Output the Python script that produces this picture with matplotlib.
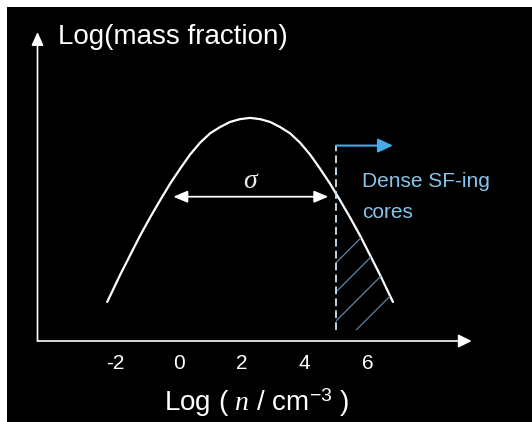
import numpy as np
import matplotlib
matplotlib.use("Agg")
import matplotlib.pyplot as plt
from matplotlib.patches import Rectangle, Polygon

plt.rcParams["font.family"] = ["Liberation Sans", "DejaVu Sans"]
plt.rcParams["mathtext.fontset"] = "custom"
plt.rcParams["mathtext.rm"] = "Liberation Sans"
plt.rcParams["mathtext.it"] = "Liberation Serif:italic"

# log density (x) vs log mass fraction (arbitrary units)
curve_x = [-2.27, -1.86, -1.54, -1.23, -0.91, -0.59, -0.27, 0.05, 0.36, 0.68,
           1.00, 1.32, 1.63, 1.95, 2.27, 2.59, 2.91, 3.22, 3.54, 3.86,
           4.18, 4.49, 4.81, 5.13, 5.45, 5.77, 6.08, 6.40, 6.81]
curve_y = [1.24, 2.10, 2.73, 3.34, 3.92, 4.47, 5.00, 5.48, 5.92, 6.30,
           6.60, 6.80, 6.96, 7.05, 7.09, 7.05, 6.96, 6.80, 6.60, 6.30,
           5.92, 5.48, 5.00, 4.47, 3.92, 3.34, 2.73, 2.10, 1.24]
x_ticks = [-2, 0, 2, 4, 6]
x_tick_labels = ["-2", "0", "2", "4", "6"]
sigma_left, sigma_right, sigma_y = -0.17, 4.755, 4.585
threshold = 5.0
threshold_top, threshold_bottom = 6.21, 0.35
core_arrow_end = 6.81

blue = "#45ace8"
text_blue = "#86c4ea"

fig = plt.figure(figsize=(5.32, 4.22), dpi=100, facecolor="white")
fig.add_artist(Rectangle((7 / 532, 0), 1, 1 - 7 / 422, transform=fig.transFigure,
                         facecolor="black", edgecolor="none", zorder=-1))
ax = fig.add_axes([37.5 / 532, 81 / 422, 494.5 / 532, 341 / 422])
ax.patch.set_visible(False)
ax.set_xlim(-4.485, 11.228)
ax.set_ylim(0, 10.836)
for s in ax.spines.values():
    s.set_visible(False)

# axes arrows
ax.annotate("", xy=(9.31, 0), xytext=(-4.485, 0),
            arrowprops=dict(arrowstyle="-|>,head_length=0.8,head_width=0.4",
                            color="white", lw=1.2, shrinkA=0, shrinkB=0))
ax.annotate("", xy=(-4.485, 9.82), xytext=(-4.485, 0),
            arrowprops=dict(arrowstyle="-|>,head_length=0.8,head_width=0.36",
                            color="white", lw=1.2, shrinkA=0, shrinkB=0))

ax.plot(curve_x, curve_y, color="white", lw=1.6, solid_joinstyle="round",
        solid_capstyle="round")

# hatched high-density tail
cx = np.array(curve_x)
cy = np.array(curve_y)
sel = cx > threshold
verts = [(threshold, threshold_bottom), (threshold, np.interp(threshold, cx, cy))]
verts += list(zip(cx[sel], cy[sel]))
verts += [(cx[sel][-1], threshold_bottom)]
region = Polygon(verts, closed=True, facecolor="none", edgecolor="none")
ax.add_patch(region)
for c in np.arange(-0.29, 3.0, 0.925):
    hl, = ax.plot([threshold - 1, threshold + 3], [c - 1, c + 3],
                  color="#5b86a6", lw=0.9)
    hl.set_clip_path(region)

# threshold line and arrow
ax.plot([threshold, threshold], [threshold_bottom, threshold_top],
        color="#cfe3f2", lw=1.3, dashes=(4.3, 2.3))
ax.annotate("", xy=(core_arrow_end, threshold_top), xytext=(threshold, threshold_top),
            arrowprops=dict(arrowstyle="-|>,head_length=0.9,head_width=0.42",
                            color=blue, lw=1.5, shrinkA=0, shrinkB=0))
ax.text(5.826, 4.894, "Dense SF-ing", color=text_blue, fontsize=15,
        ha="left", va="baseline")
ax.text(5.826, 3.91, "cores", color=text_blue, fontsize=15,
        ha="left", va="baseline")

# sigma width
ax.annotate("", xy=(sigma_right, sigma_y), xytext=(sigma_left, sigma_y),
            arrowprops=dict(arrowstyle="<|-|>,head_length=0.85,head_width=0.36",
                            color="white", lw=1.3, shrinkA=0, shrinkB=0))
ax.text(2.267, 5.06, "σ", color="#eeeeee", fontsize=20, family="Liberation Serif",
        style="italic", ha="center", va="center")

ax.set_xticks(x_ticks, labels=x_tick_labels)
ax.tick_params(axis="x", length=0, pad=9.4, labelsize=15, labelcolor="white")
ax.set_yticks([])

ax.set_xlabel("Log ( $\\mathit{n}$ / cm$^{-3}$ )", color="white", fontsize=20)
ax.xaxis.set_label_coords(0.443, -0.181)
ax.xaxis.label.set_va("center")
ax.set_ylabel("Log(mass fraction)", color="white", fontsize=20, rotation=0,
              ha="left", va="baseline")
ax.yaxis.set_label_coords(0.0415, 0.872)

fig.savefig("out.png", dpi=100, facecolor="white")
